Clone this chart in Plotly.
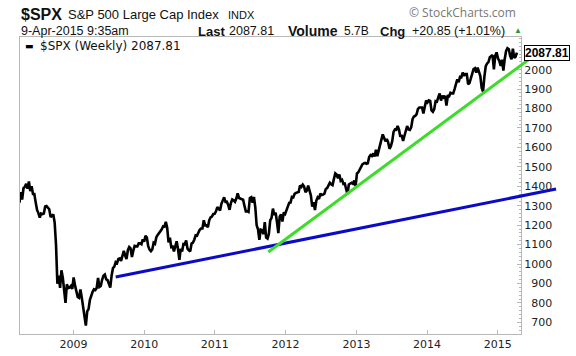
import pandas as pd
import plotly.graph_objects as go

# ---------------- data ----------------
start_week = "2008-03-28"
spx_weekly = [
    # 2008 (from Mar 28)
    1315, 1370, 1332, 1390, 1397, 1413, 1388, 1425, 1375, 1400,
    1360, 1360, 1317, 1278, 1262, 1239, 1260, 1257, 1260, 1296,
    1298, 1292, 1282, 1242, 1251, 1255, 1213, 1099, 899, 940,
    877, 968, 930, 873, 800, 896, 876, 879, 887, 872,
    # 2009
    931, 890, 850, 831, 826, 869, 827, 770, 735, 683,
    756, 768, 816, 843, 857, 870, 866, 877, 929, 882,
    887, 919, 940, 946, 921, 918, 896, 879, 940, 979,
    987, 1010, 1005, 1026, 1029, 1016, 1042, 1068, 1044, 1025,
    1071, 1087, 1080, 1036, 1069, 1093, 1091, 1091, 1106, 1106,
    1102, 1127,
    # 2010
    1115, 1145, 1136, 1092, 1074, 1066, 1075, 1109, 1104, 1138,
    1150, 1160, 1167, 1179, 1194, 1192, 1217, 1187, 1111, 1136,
    1087, 1089, 1065, 1092, 1117, 1076, 1022, 1078, 1065, 1103,
    1102, 1121, 1079, 1071, 1065, 1105, 1110, 1125, 1148, 1146,
    1166, 1176, 1183, 1183, 1225, 1199, 1199, 1189, 1225, 1240,
    1244, 1257, 1258,
    # 2011
    1271, 1293, 1283, 1276, 1310, 1329, 1343, 1320, 1321, 1304,
    1279, 1314, 1332, 1328, 1320, 1337, 1364, 1340, 1338, 1333,
    1331, 1300, 1271, 1272, 1268, 1340, 1344, 1316, 1345, 1292,
    1199, 1179, 1124, 1177, 1174, 1154, 1216, 1136, 1131, 1155,
    1224, 1238, 1285, 1253, 1264, 1216, 1159, 1244, 1255, 1219,
    1265, 1258,
    # 2012
    1278, 1289, 1315, 1316, 1345, 1343, 1361, 1366, 1370, 1371,
    1404, 1397, 1408, 1398, 1370, 1378, 1403, 1369, 1353, 1295,
    1318, 1278, 1325, 1343, 1335, 1362, 1355, 1357, 1362, 1386,
    1391, 1405, 1418, 1411, 1406, 1438, 1466, 1460, 1441, 1461,
    1428, 1433, 1412, 1414, 1380, 1360, 1409, 1416, 1418, 1413,
    1430, 1402,
    # 2013
    1466, 1472, 1486, 1503, 1513, 1518, 1520, 1516, 1518, 1551,
    1561, 1556, 1569, 1553, 1588, 1555, 1582, 1614, 1633, 1667,
    1650, 1631, 1643, 1626, 1593, 1606, 1632, 1680, 1692, 1691,
    1710, 1691, 1655, 1664, 1633, 1655, 1688, 1710, 1692, 1690,
    1703, 1745, 1759, 1762, 1771, 1798, 1805, 1806, 1805, 1775,
    1818, 1841,
    # 2014
    1831, 1842, 1839, 1790, 1783, 1797, 1838, 1836, 1859, 1878,
    1841, 1866, 1857, 1865, 1815, 1864, 1863, 1881, 1878, 1878,
    1900, 1924, 1950, 1936, 1963, 1961, 1985, 1968, 1978, 1978,
    1925, 1931, 1955, 1988, 2003, 2007, 1985, 2011, 1983, 1967,
    1906, 1887, 1964, 2018, 2032, 2039, 2064, 2068, 2075, 2002,
    2071, 2089,
    # 2015
    2058, 2045, 2019, 2051, 1995, 2055, 2097, 2110, 2105, 2071,
    2053, 2108, 2061, 2067, 2087.81,
]
last_value = spx_weekly[-1]

# trend lines (two points each)
blue_dates = ["2009-08-07", "2015-10-29"]
blue_values = [933, 1386]
green_dates = ["2011-10-04", "2015-07-13"]
green_values = [1062, 2076]

year_ticks = ["2009-01-01", "2010-01-01", "2011-01-01", "2012-01-01",
              "2013-01-01", "2014-01-01", "2015-01-01"]
year_labels = ["2009", "2010", "2011", "2012", "2013", "2014", "2015"]
y_ticks = list(range(700, 2001, 100))
FS = "\u2007"
y_labels = [(FS if v < 1000 else "") + str(v) for v in y_ticks]

dates = pd.date_range(start_week, periods=len(spx_weekly), freq="W-FRI")

# ---------------- layout geometry ----------------
W, H = 576, 356
ML, MR, MT, MB = 20, 16, 37, 22
PW = W - ML - MR          # paper width 540
PH = H - MT - MB          # 297
PLOT_RIGHT = 521
d1 = (PLOT_RIGHT - ML) / PW

x_r0 = pd.Timestamp("2008-03-31")
x_r1 = pd.Timestamp("2015-05-01")
x2_r1 = x_r0 + (x_r1 - x_r0) / d1
y_range = [640, 2168]


def px(xp):
    return (xp - ML) / PW


def py(yp):
    return (H - MB - yp) / PH


fig = go.Figure()
fig.add_trace(go.Scatter(
    x=dates, y=spx_weekly, mode="lines",
    line=dict(color="black", width=2.6),
    xaxis="x", yaxis="y", showlegend=False, hoverinfo="skip"))
fig.add_trace(go.Scatter(
    x=pd.to_datetime(blue_dates), y=blue_values, mode="lines",
    line=dict(color="#0a0ac8", width=3),
    xaxis="x2", yaxis="y2", showlegend=False, hoverinfo="skip"))
fig.add_trace(go.Scatter(
    x=pd.to_datetime(green_dates), y=green_values, mode="lines",
    line=dict(color="#3ddc2a", width=3),
    xaxis="x2", yaxis="y2", showlegend=False, hoverinfo="skip"))

axis_gray = "#b8b8b8"
tick_font = dict(family="DejaVu Sans", size=11, color="#222")

fig.update_layout(
    width=W, height=H,
    margin=dict(l=ML, r=MR, t=MT, b=MB, pad=0, autoexpand=False),
    paper_bgcolor="white",
    plot_bgcolor="rgba(0,0,0,0)",
    xaxis=dict(
        domain=[0, d1], range=[x_r0, x_r1], type="date",
        tickmode="array", tickvals=year_ticks, ticktext=year_labels,
        ticks="inside", ticklen=4, tickcolor=axis_gray,
        showline=True, linecolor=axis_gray, linewidth=1, mirror=True,
        showgrid=False, zeroline=False, tickfont=tick_font,
        anchor="y", automargin=False,
    ),
    yaxis=dict(
        domain=[0, 1], range=y_range, side="right",
        tickmode="array", tickvals=y_ticks, ticktext=y_labels,
        ticks="inside", ticklen=4, tickcolor=axis_gray,
        minor=dict(ticks="inside", ticklen=2, dtick=20, tickcolor=axis_gray),
        showline=True, linecolor=axis_gray, linewidth=1, mirror=True,
        showgrid=False, zeroline=False, tickfont=tick_font,
        ticklabelstandoff=0,
        anchor="x", automargin=False,
    ),
    xaxis2=dict(domain=[0, 1], range=[x_r0, x2_r1], type="date",
                visible=False, anchor="y2", automargin=False),
    yaxis2=dict(domain=[0, 1], range=y_range, visible=False, anchor="x2",
                automargin=False),
)

ann = []


def txt(text, xp, yp, size, family="Liberation Sans", color="#111", **kw):
    ann.append(dict(text=text, x=px(xp), y=py(yp), xref="paper", yref="paper",
                    xanchor="left", yanchor="middle", showarrow=False,
                    font=dict(family=family, size=size, color=color), **kw))


txt("<b>$SPX</b>", 19, 14, 16)
txt("S&P 500 Large Cap Index", 66, 14, 13)
txt("INDX", 226, 15, 11)
txt("\u00a9 StockCharts.com", 407, 13, 12, family="Open Sans", color="#777")
txt("9-Apr-2015 9:35am", 19, 31, 12.5)
txt("<b>Last</b>", 196, 31, 13)
txt("2087.81", 227, 31, 12.5)
txt("<b>Volume</b>", 286, 31, 14)
txt("5.7B", 342, 31, 12)
txt("<b>Chg</b>", 378, 31, 13)
txt("+20.85 (+1.01%)", 410, 31, 12.5)
txt("\u25b2", 512, 30, 8, color="#2a9a2a")
txt("\u25ac", 23, 46, 9, family="DejaVu Sans", color="black")
txt("$SPX (Weekly) " + f"{last_value:.2f}", 38, 46, 12,
    family="DejaVu Sans")

# price tag on the right axis
ann.append(dict(
    text="<b>" + f"{last_value:.2f}" + "</b>",
    x=d1, y=last_value, xref="paper", yref="y",
    xanchor="left", yanchor="middle", xshift=3,
    showarrow=False,
    bordercolor="black", borderwidth=1, borderpad=0, bgcolor="white",
    font=dict(family="Liberation Sans", size=12, color="black"),
))

fig.update_layout(annotations=ann)
fig.write_html(
    "out.html",
    config={"displayModeBar": False, "staticPlot": True},
    post_script="document.body.style.margin='0';"
                "document.body.style.overflow='hidden';",
)
